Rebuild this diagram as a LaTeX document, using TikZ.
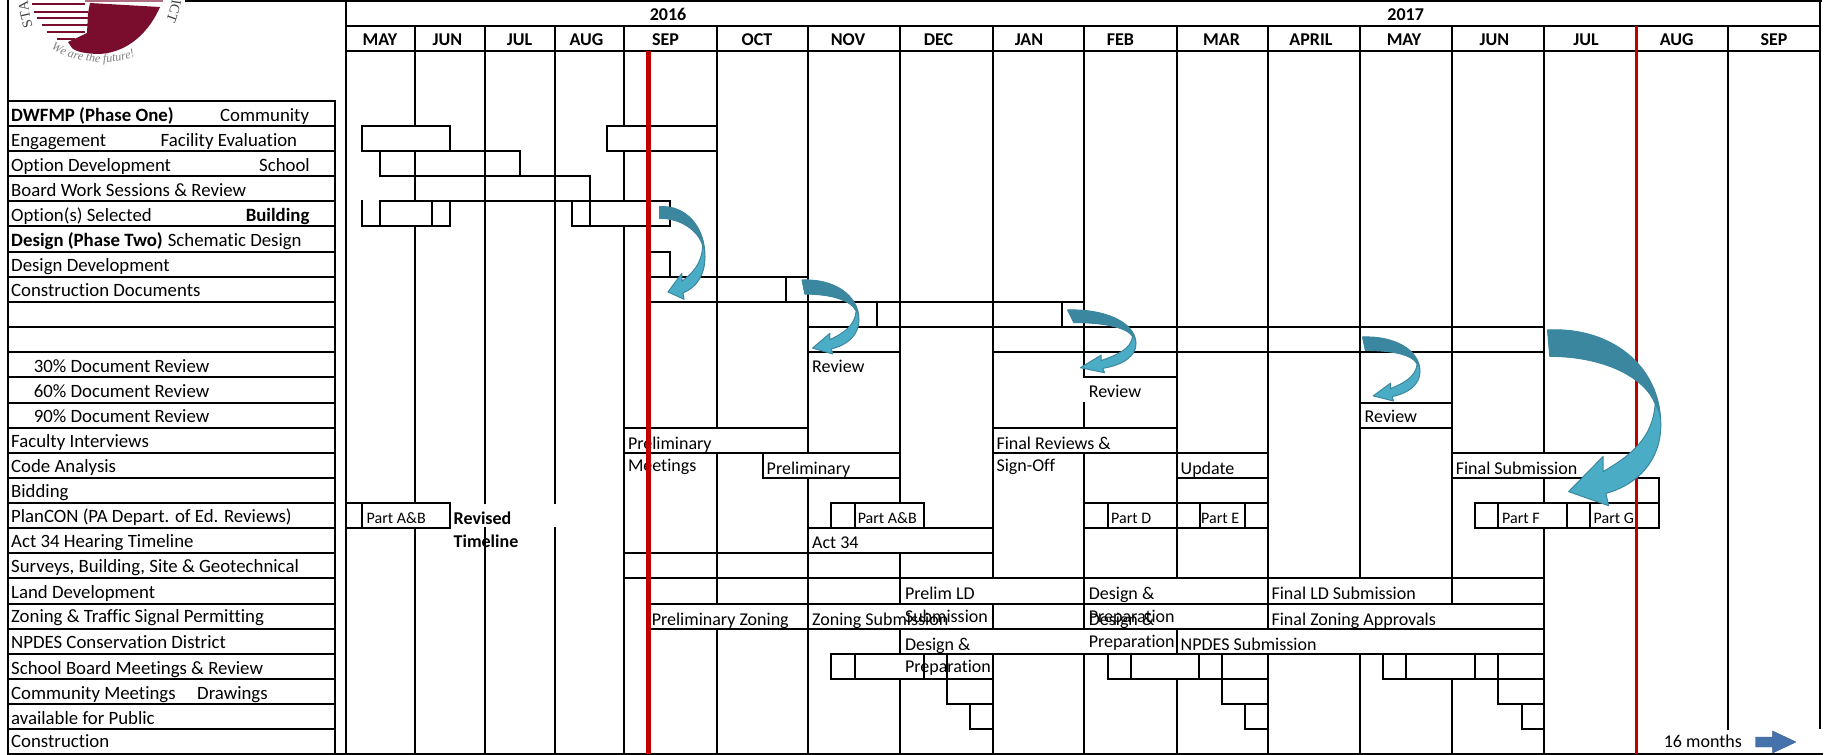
\documentclass[tikz,border=0pt]{standalone}
\usepackage{fontspec}
\setmainfont{Carlito}[Ligatures=CommonOff]
\newfontfamily\logofont{Liberation Serif}
\usetikzlibrary{decorations.text}
\definecolor{logored}{HTML}{7A0C2E}
\definecolor{redline}{HTML}{C00000}
\definecolor{tealdark}{HTML}{3C87A0}
\definecolor{teallight}{HTML}{4BACC6}
\definecolor{arrowblue}{HTML}{4672AC}
\tikzset{lab/.style={anchor=base west,inner sep=0pt},
 rowlab/.style={lab,font=\fontsize{18.8}{20}\selectfont},
 smalllab/.style={lab,font=\fontsize{16}{18}\selectfont},
 monthlab/.style={anchor=base,inner sep=0pt,font=\fontsize{18}{20}\selectfont\bfseries},
 rule/.style={line width=2pt,line cap=rect}}
% bent arrow: left, top, width, height, tail thickness, tail slant
\newcommand{\bentarrow}[6]{
 \begin{scope}[shift={(#1,#2)},x=#3pt,y=-#4pt]
 \filldraw[fill=teallight,draw=tealdark,line width=1pt,line join=round] (0,0) .. controls (0.55,-0.02) and (1,0.2) .. (1,0.54) .. controls (1,0.74) and (0.8,0.88) .. (0.515,0.93) -- (0.54,1) -- (0.186,0.92) -- (0.49,0.72) -- (0.49,0.806) .. controls (0.72,0.72) and (0.93,0.62) .. (0.95,0.42) .. controls (0.86,0.27) and (0.5,#5) .. (#6,#5) -- cycle;
 \fill[tealdark] (0,0) .. controls (0.55,-0.02) and (1,0.2) .. (1,0.54) .. controls (0.99,0.46) and (0.97,0.46) .. (0.95,0.42) .. controls (0.86,0.27) and (0.5,#5) .. (#6,#5) -- cycle;
 \end{scope}}
\begin{document}
\begin{tikzpicture}[x=1pt,y=-1pt,font=\fontsize{18}{20}\selectfont]
 \useasboundingbox (0,0) rectangle (1826,755);
 % logo
 \begin{scope}
 \clip (8,0) rectangle (185,72);
 \fill[logored] (90,3) -- (160,7) .. controls (150,30) and (130,52) .. (100,54) .. controls (88,54) and (76,52) .. (72,48) -- (68,42) -- (87,33) -- (88,13) -- cycle;
 \foreach \xa/\xb/\y in {32/85/4,34/88/12,37/88/18,42/88/25,47/85/32,57/75/39}
 \draw[logored,line width=1.8pt] (\xa,\y) -- (\xb,\y);
 \draw[logored!60,line width=1.5pt] (85,1) -- (163,1);
 \path[decorate,decoration={text along path,text={|\logofont\fontsize{14}{14}\selectfont\color{black!75}|STA}}] (33,26) .. controls (30,17) and (28,9) .. (27,-6);
 \path[decorate,decoration={text along path,text={|\logofont\fontsize{14}{14}\selectfont\color{black!75}|ICT}}] (172,-1) .. controls (171,7) and (169,15) .. (164,26);
 \path[decorate,decoration={text along path,text={|\logofont\itshape\fontsize{12}{12}\selectfont\color{black!50}|We are the future!}}] (51,48) .. controls (75,65) and (120,68) .. (148,50);
 \end{scope}
 % header and label column
 \draw[line width=2.5pt] (8,0) -- (8,755) (185,1) -- (1822,1);
 \draw[line width=2.5pt] (346,1) -- (346,754) (1820,1) -- (1820,729);
 \draw[rule] (335,101) -- (335,754) (8,754) -- (1822,754) (346,26) -- (1820,26) (346,51) -- (1820,51);
 \foreach \y in {101,126,151,176,201,226,252,277,302,327,352,377,402.5,427.7,453,478,503,528,553,578,604,629,654,679,704,729}
 \draw[rule] (8,\y) -- (335,\y);
 % month lines
 \draw[rule] (415,26) -- (415,126) (415,151) -- (415,201) (415,226) -- (415,503) (415,528) -- (415,754)
 (485,26) -- (485,503) (485,528) -- (485,754)
 (555,26) -- (555,503) (555,528) -- (555,754)
 (624.3,26) -- (624.3,126) (624.3,151) -- (624.3,201) (624.3,226) -- (624.3,754)
 (716.6,26) -- (716.6,427.7) (716.6,453) -- (716.6,604) (716.6,629) -- (716.6,754)
 (808,26) -- (808,453) (808,478) -- (808,754)
 (900.4,26) -- (900.4,503) (900.4,553) -- (900.4,604) (900.4,629) -- (900.4,654) (900.4,679) -- (900.4,754)
 (992.7,26) -- (992.7,578) (992.7,604) -- (992.7,629) (992.7,654) -- (992.7,754)
 (1084.4,26) -- (1084.4,377) (1084.4,402.5) -- (1084.4,427.7) (1084.4,453) -- (1084.4,629) (1084.4,654) -- (1084.4,754)
 (1176.5,26) -- (1176.5,578) (1176.5,629) -- (1176.5,654) (1176.5,679) -- (1176.5,754)
 (1267.7,26) -- (1267.7,629) (1267.7,654) -- (1267.7,754)
 (1360,26) -- (1360,578) (1360,654) -- (1360,754)
 (1452,26) -- (1452,604) (1452,679) -- (1452,754)
 (1544.4,26) -- (1544.4,453) (1544.4,478) -- (1544.4,503) (1544.4,528) -- (1544.4,754)
 (1728,26) -- (1728,729);
 % bars, top and bottom
 \draw[rule] (361.5,126) -- (450,126) (607,126) -- (716.6,126)
 (361.5,151) -- (520,151) (607,151) -- (716.6,151)
 (380,176) -- (589.7,176) (380,201) -- (669.6,201)
 (361.5,226) -- (450,226) (572,226) -- (669.6,226)
 (648,252) -- (669.6,252) (648,277) -- (808,277) (648,302) -- (1084.4,302)
 (808,327) -- (1544.4,327) (808,352) -- (900.4,352) (992.7,352) -- (1544.4,352)
 (1084.4,377) -- (1176.5,377) (1360,402.5) -- (1452,402.5)
 (624.3,427.7) -- (808,427.7) (992.7,427.7) -- (1176.5,427.7) (1360,427.7) -- (1452,427.7)
 (624.3,453) -- (900.4,453) (992.7,453) -- (1267.7,453) (1452,453) -- (1630,453)
 (762.5,478) -- (900.4,478) (1176.5,478) -- (1267.7,478) (1452,478) -- (1659,478)
 (346,503) -- (450,503) (831,503) -- (923.8,503) (1084.4,503) -- (1267.7,503) (1475.4,503) -- (1659,503)
 (346,528) -- (450,528) (808,528) -- (992.7,528) (1084.4,528) -- (1267.7,528) (1475.4,528) -- (1659,528)
 (624.3,553) -- (992.7,553) (624.3,578) -- (1544.4,578)
 (648,604) -- (1544.4,604) (648,629) -- (1544.4,629) (831,654) -- (1544.4,654)
 (831,679) -- (992.7,679) (1107.5,679) -- (1267.7,679) (1383,679) -- (1544.4,679)
 (946.8,704) -- (992.7,704) (1222,704) -- (1267.7,704) (1498,704) -- (1544.4,704)
 (969.8,729) -- (992.7,729) (1245,729) -- (1267.7,729) (1521.8,729) -- (1544.4,729);
 % bars, ends and week marks
 \draw[rule] (361.5,126) -- (361.5,151) (450,126) -- (450,151) (607,126) -- (607,151)
 (380,151) -- (380,176) (520,151) -- (520,176) (589.7,176) -- (589.7,226)
 (361.5,201) -- (361.5,226) (380,201) -- (380,226) (432,201) -- (432,226) (450,201) -- (450,226)
 (572,201) -- (572,226) (669.6,201) -- (669.6,226) (669.6,252) -- (669.6,277)
 (785.5,277) -- (785.5,302) (877.4,302) -- (877.4,327) (1061.7,302) -- (1061.7,327)
 (762.5,453) -- (762.5,478) (1659,478) -- (1659,528);
 \foreach \x in {361.5,450,831,855,923.8,1108,1200,1245,1475.4,1498,1567.3,1590.3}
 \draw[rule] (\x,503) -- (\x,528);
 \foreach \x in {831,855,923.8,946.8,1107.5,1130.5,1198.5,1222,1383,1406,1475.4,1498}
 \draw[rule] (\x,654) -- (\x,679);
 \draw[rule] (946.8,679) -- (946.8,704) (1222,679) -- (1222,704) (1498,679) -- (1498,704)
 (969.8,704) -- (969.8,729) (1245,704) -- (1245,729) (1521.8,704) -- (1521.8,729);
 % header text
 \node[monthlab] (y16) at (668,20) {2016};
 \node[monthlab] (y17) at (1405.7,20) {2017};
 \foreach \x/\m [count=\i] in {380/MAY,447.5/JUN,519.5/JUL,586.5/AUG,665.5/SEP,757/OCT,848/NOV,938.5/DEC,1029/JAN,1120.5/FEB,1221.6/MAR,1311/APRIL,1404/MAY,1494.4/JUN,1586/JUL,1676.7/AUG,1774/SEP}
 \node[monthlab] (m\i) at (\x,45) {\m};
 % row labels
 \foreach \y/\t [count=\i] in {121/{\textbf{DWFMP (Phase One)}},146/{Engagement},171/{Option Development},196/{Board Work Sessions \& Review},221/{Option(s) Selected},246.5/{\textbf{Design (Phase Two)}},271.5/{Design Development},296.5/{Construction Documents},447.5/{Faculty Interviews},472.5/{Code Analysis},497.5/{Bidding},522.5/{PlanCON (PA Depart. of Ed. Reviews)},547.5/{Act 34 Hearing Timeline},572.5/{Surveys, Building, Site \& Geotechnical},598/{Land Development},622.5/{Zoning \& Traffic Signal Permitting},648.5/{NPDES Conservation District},674/{School Board Meetings \& Review},699/{Community Meetings},724/{available for Public},747/{Construction}}
 \node[rowlab] (r\i) at (11,\y) {\t};
 \foreach \x/\y/\t [count=\i] in {220/121/Community,160.5/146/Facility Evaluation,259/171/School,245.6/221/\textbf{Building},167.6/246.5/Schematic Design,197/699/Drawings,33.7/372/30\% Document Review,33.7/397/60\% Document Review,33.7/422/90\% Document Review}
 \node[rowlab] (s\i) at (\x,\y) {\t};
 % bar text
 \foreach \x/\y/\t [count=\i] in {812/372.3/Review,1088.6/397/Review,1364.5/422/Review,627.8/449/Preliminary,627.8/471/Meetings,766.5/474/Preliminary,996.3/449/Final Reviews \&,996.3/471/Sign-Off,1180.5/474/Update,1455.6/474/Final Submission,812/548/Act 34,904.8/599/Prelim LD,904.8/622.3/Submission,651.6/625/Preliminary Zoning,812/625/Zoning Submission,904.8/650/Design \&,904.8/672.3/Preparation,1088.6/599.3/Design \&,1088.6/622.3/Preparation,1088.6/625/Design \&,1088.6/647.3/Preparation,1180.5/650/NPDES Submission,1271.4/599/Final LD Submission,1271.4/625/Final Zoning Approvals,1663.6/747.7/16 months}
 \node[lab] (t\i) at (\x,\y) {\t};
 \foreach \x/\t [count=\i] in {366.5/Part A\&B,857.6/Part A\&B,1111/Part D,1201/Part E,1502/Part F,1593.5/Part G}
 \node[smalllab] (p\i) at (\x,523) {\t};
 \node[lab,font=\fontsize{18}{20}\selectfont\bfseries] (rev) at (453.5,524) {Revised};
 \node[lab,font=\fontsize{18}{20}\selectfont\bfseries] (tim) at (453.5,547.3) {Timeline};
 % today lines
 \draw[redline,line width=4.5pt] (648.4,51) -- (648.4,754);
 \draw[redline,line width=3pt] (1636,26) -- (1636,754);
 % arrows
 \bentarrow{659.5}{206.7}{45.5}{92.6}{0.125}{0}
 \bentarrow{802}{280}{57}{74}{0.19}{0.05}
 \bentarrow{1067.6}{310}{68.4}{62.7}{0.2}{0.09}
 \bentarrow{1362.5}{337}{57.5}{64}{0.21}{0.05}
 \bentarrow{1547.5}{330}{113.3}{175.7}{0.15}{0.02}
 \filldraw[fill=arrowblue,draw=arrowblue!80!black] (1755.5,737) -- (1772.6,737) -- (1772.6,731) -- (1796,742) -- (1772.6,753) -- (1772.6,747) -- (1755.5,747) -- cycle;
\end{tikzpicture}
\end{document}
